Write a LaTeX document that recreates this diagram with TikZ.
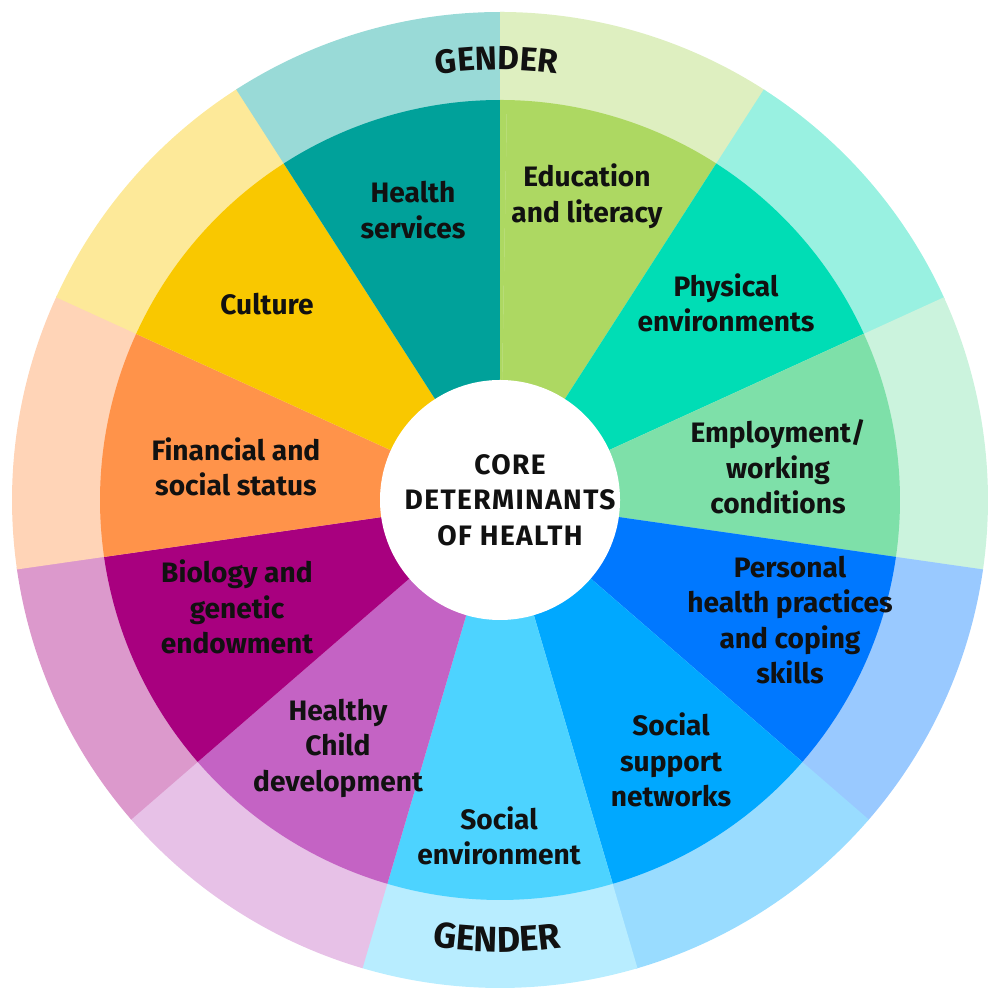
\documentclass[tikz,border=0pt]{standalone}
\usepackage{fontspec}
\setmainfont{Fira Sans}
\newfontfamily\gfont{Fira Sans}
\newfontfamily\cfont{Fira Sans}[LetterSpace=5]
\usetikzlibrary{decorations.text}
\definecolor{cEdu}{HTML}{ADD862}
\definecolor{cPhy}{HTML}{00DDB5}
\definecolor{cEmp}{HTML}{7EE0A9}
\definecolor{cPer}{HTML}{0078FF}
\definecolor{cSup}{HTML}{00A8FF}
\definecolor{cEnv}{HTML}{4DD3FF}
\definecolor{cChi}{HTML}{C463C4}
\definecolor{cBio}{HTML}{A8007F}
\definecolor{cFin}{HTML}{FF934A}
\definecolor{cCul}{HTML}{F9C800}
\definecolor{cHea}{HTML}{00A19A}
\definecolor{txt}{HTML}{111111}
\tikzset{
  lbl/.style={align=center, text=txt, font=\fontsize{8}{10.1}\selectfont\bfseries, inner sep=0pt},
}
\begin{document}
\begin{tikzpicture}
\useasboundingbox (-5,-5) rectangle (5,5);
\def\w{32.7272727}
\foreach \c [count=\i from 0] in {cEdu,cPhy,cEmp,cPer,cSup,cEnv,cChi,cBio,cFin,cCul,cHea}{
  \pgfmathsetmacro{\aa}{90-\i*\w}
  \pgfmathsetmacro{\ab}{90-(\i+1)*\w-0.2}
  \fill[\c!40!white] (0,0) -- (\aa:4.88) arc[start angle=\aa, end angle=\ab, radius=4.88] -- cycle;
  \fill[\c] (0,0) -- (\aa:4.0) arc[start angle=\aa, end angle=\ab, radius=4.0] -- cycle;
}
\fill[cEdu!40!white] (0,0) -- (90:4.88) arc[start angle=90, end angle=89, radius=4.88] -- cycle;
\fill[cEdu] (0,0) -- (90:4.0) arc[start angle=90, end angle=89, radius=4.0] -- cycle;
\fill[white] (0,0) circle[radius=1.2];

\node[lbl] (hea) at (-0.87,2.90) {Health\\services};
\node[lbl] (edu) at (0.87,3.04) {Education\\and literacy};
\node[lbl] (phy) at (2.26,1.97) {Physical\\environments};
\node[lbl] (emp) at (2.78,0.33) {Employment/\\working\\conditions};
\node[lbl] (per) at (2.90,-1.20) {Personal\\health practices\\and coping\\skills};
\node[lbl] (sup) at (1.71,-2.60) {Social\\support\\networks};
\node[lbl] (env) at (-0.01,-3.36) {Social\\environment};
\node[lbl] (chi) at (-1.62,-2.48) {Healthy\\Child\\development};
\node[lbl] (bio) at (-2.63,-1.07) {Biology and\\genetic\\endowment};
\node[lbl] (fin) at (-2.64,0.33) {Financial and\\social status};
\node[lbl] (cul) at (-2.33,1.96) {Culture};
\node[lbl, font=\cfont\fontsize{8}{10.1}\selectfont\bfseries] (core) at (0.10,0.0) {CORE\\DETERMINANTS\\OF HEALTH};

\path[decorate, decoration={text along path, text align=center,
  text={|\gfont\fontsize{9.5}{10}\selectfont\bfseries\color{txt}|GENDER}}]
  (100.4:4.30) arc[start angle=100.4, end angle=80.4, radius=4.30];
\path[decorate, decoration={text along path, text align=center,
  text={|\gfont\fontsize{10.2}{11}\selectfont\bfseries\color{txt}|GENDER}}]
  (-105.4:4.52) arc[start angle=-105.4, end angle=-75.4, radius=4.52];
\end{tikzpicture}
\end{document}
